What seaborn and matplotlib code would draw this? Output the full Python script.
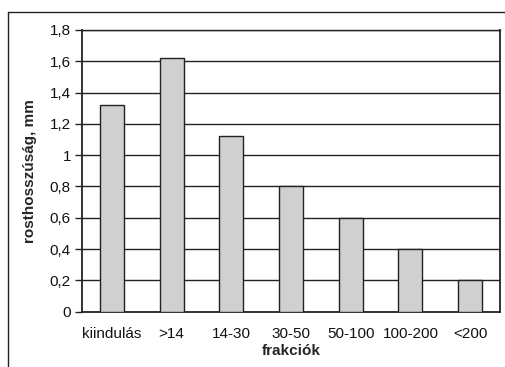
import matplotlib
matplotlib.use("Agg")
import matplotlib.pyplot as plt
import seaborn as sns
import pandas as pd
import numpy as np
from matplotlib.lines import Line2D

categories = ["kiindulás", ">14", "14-30", "30-50", "50-100", "100-200", "<200"]
values = [1.32, 1.62, 1.12, 0.80, 0.60, 0.40, 0.20]
y_ticks = [0, 0.2, 0.4, 0.6, 0.8, 1.0, 1.2, 1.4, 1.6, 1.8]
y_tick_labels = ["0", "0,2", "0,4", "0,6", "0,8", "1", "1,2", "1,4", "1,6", "1,8"]

sns.set_theme(style="white")
plt.rcParams["font.family"] = ["Liberation Sans", "DejaVu Sans"]

df = pd.DataFrame({"frakció": categories, "hossz": values})

fig = plt.figure(figsize=(5.05, 3.67), dpi=100)
ax = fig.add_axes([0.1624, 0.1507, 0.8276, 0.7676])

sns.barplot(data=df, x="frakció", y="hossz", ax=ax, color="#d0d0d0",
            edgecolor="#222222", linewidth=1.0, width=0.4, saturation=1, zorder=3)

fs = 11
ax.set_ylim(0, 1.8)
ax.set_xlim(-0.5, len(categories) - 0.5)
ax.set_yticks(y_ticks)
ax.set_yticklabels(y_tick_labels, fontsize=fs, color="#111111")
for y in y_ticks[1:]:
    ax.axhline(y, color="#222222", linewidth=1.0, zorder=1)

ax.set_xticks(range(len(categories)))
ax.set_xticklabels(categories, fontsize=fs, color="#111111")
ax.tick_params(axis="x", which="major", length=0, pad=11)
ax.set_xticks(np.arange(-0.5, len(categories), 1.0), minor=True)
ax.tick_params(axis="x", which="minor", length=4, width=1.0, color="#222222", direction="out")
ax.tick_params(axis="y", length=5, width=1.0, color="#222222", direction="out", pad=3, left=True)

for side in ["left", "right", "bottom", "top"]:
    ax.spines[side].set_visible(True)
    ax.spines[side].set_color("#222222")
    ax.spines[side].set_linewidth(1.3)
ax.spines["top"].set_linewidth(1.0)

ax.set_xlabel("frakciók", fontsize=fs, fontweight="bold", labelpad=2)
ax.set_ylabel("rosthosszúság, mm", fontsize=fs, fontweight="bold", labelpad=9)

# outer chart frame (left and top edges)
x0 = 7.5 / 505
y0 = 1 - 11.5 / 367
fig.add_artist(Line2D([x0, x0], [0, y0], transform=fig.transFigure, color="#222222", linewidth=1.0))
fig.add_artist(Line2D([x0, 1], [y0, y0], transform=fig.transFigure, color="#222222", linewidth=1.0))

fig.savefig("out.png", dpi=100)
